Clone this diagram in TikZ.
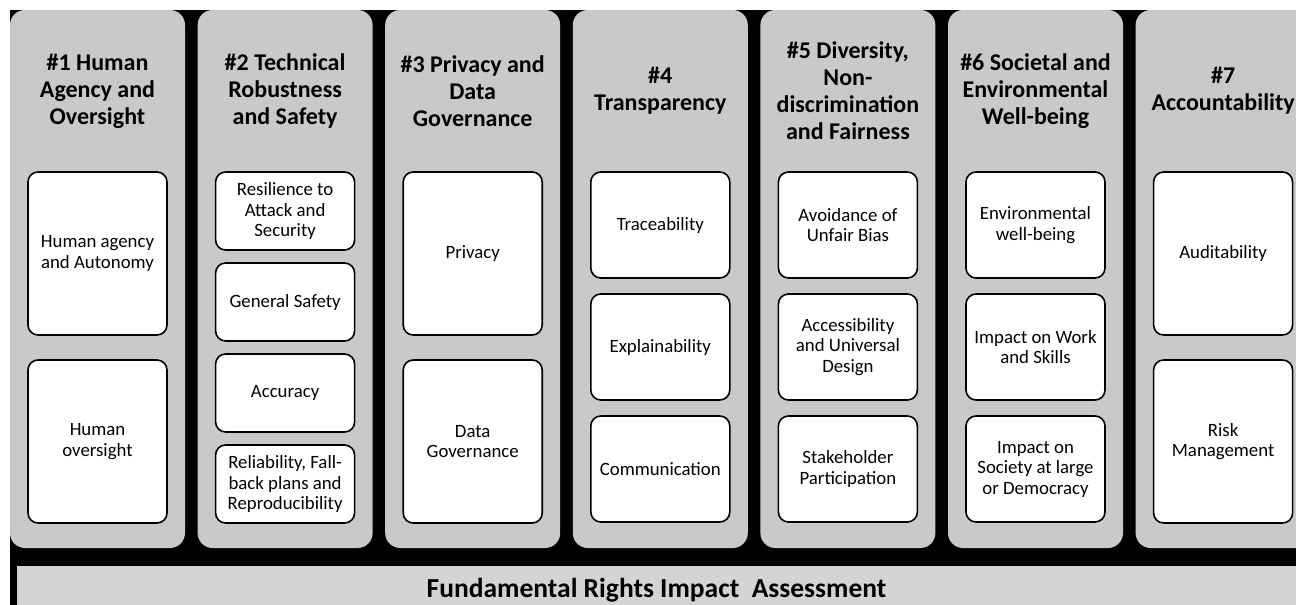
\documentclass[tikz,border=0pt]{standalone}
\usepackage{fontspec}
\setmainfont{Carlito}
\usepackage{tikz}
\usetikzlibrary{positioning}
\definecolor{pillargray}{RGB}{201,201,201}
\definecolor{friagray}{RGB}{212,212,212}
\tikzstyle{pillar} = [rectangle, rounded corners=7.5pt, fill=pillargray, minimum width=87.5pt, minimum height=269pt, inner sep=0pt, outer sep=0pt]
\tikzstyle{reqtitle} = [align=center, font=\bfseries\fontsize{12}{13.5}\selectfont, inner sep=0pt]
\tikzstyle{req} = [rectangle, rounded corners=5pt, fill=white, draw=black, line width=0.8pt, minimum width=69.5pt, align=center, font=\fontsize{9.4}{10.25}\selectfont, inner sep=0pt, outer sep=0pt]
\tikzstyle{reqbig} = [req, minimum height=81.5pt]
\tikzstyle{reqfour} = [req, minimum height=39pt]
\tikzstyle{reqthree} = [req, minimum height=53pt]
\tikzstyle{fria} = [rectangle, fill=friagray, minimum width=639.5pt, minimum height=24pt, font=\bfseries\fontsize{13.75}{15}\selectfont, inner sep=0pt]

\begin{document}
\begin{tikzpicture}[x=0.5pt, y=-0.5pt, node distance=6.3pt]
	\useasboundingbox (0,0) rectangle (1296,605);
	\fill[black] (10,10) rectangle (1296,605);
	
	% the seven requirements
	\node[pillar] (pillar1) at (97.5,279) {};
	\node[pillar, right=of pillar1] (pillar2) {};
	\node[pillar, right=of pillar2] (pillar3) {};
	\node[pillar, right=of pillar3] (pillar4) {};
	\node[pillar, right=of pillar4] (pillar5) {};
	\node[pillar, right=of pillar5] (pillar6) {};
	\node[pillar, right=of pillar6] (pillar7) {};
	
	\node[reqtitle] (title1) at ([yshift=-40.5pt]pillar1.north) {\#1 Human\\Agency and\\Oversight};
	\node[reqtitle] (title2) at ([yshift=-40.5pt]pillar2.north) {\#2 Technical\\Robustness\\and Safety};
	\node[reqtitle] (title3) at ([yshift=-40.5pt]pillar3.north) {\#3 Privacy and\\Data\\Governance};
	\node[reqtitle] (title4) at ([yshift=-40.5pt]pillar4.north) {\#4\\Transparency};
	\node[reqtitle] (title5) at ([yshift=-40.5pt]pillar5.north) {\#5 Diversity,\\Non-\\discrimination\\and Fairness};
	\node[reqtitle] (title6) at ([yshift=-40.5pt]pillar6.north) {\#6 Societal and\\Environmental\\Well-being};
	\node[reqtitle] (title7) at ([yshift=-40.5pt]pillar7.north) {\#7\\Accountability};
	
	\node[reqbig, below=81pt of pillar1.north] (agency) {Human agency\\and Autonomy};
	\node[reqbig, below=12.5pt of agency] (oversight) {Human\\oversight};
	
	\node[reqfour, below=81pt of pillar2.north] (resilience) {Resilience to\\Attack and\\Security};
	\node[reqfour, below=6.5pt of resilience] (safety) {General Safety};
	\node[reqfour, below=6.5pt of safety] (accuracy) {Accuracy};
	\node[reqfour, below=6.5pt of accuracy] (reliability) {Reliability, Fall-\\back plans and\\Reproducibility};
	
	\node[reqbig, below=81pt of pillar3.north] (privacy) {Privacy};
	\node[reqbig, below=12.5pt of privacy] (datagov) {Data\\Governance};
	
	\node[reqthree, below=81pt of pillar4.north] (traceability) {Traceability};
	\node[reqthree, below=8pt of traceability] (explainability) {Explainability};
	\node[reqthree, below=8pt of explainability] (communication) {Communication};
	
	\node[reqthree, below=81pt of pillar5.north] (bias) {Avoidance of\\Unfair Bias};
	\node[reqthree, below=8pt of bias] (access) {Accessibility\\and Universal\\Design};
	\node[reqthree, below=8pt of access] (stakeholder) {Stakeholder\\Participation};
	
	\node[reqthree, below=81pt of pillar6.north] (environment) {Environmental\\well-being};
	\node[reqthree, below=8pt of environment] (work) {Impact on Work\\and Skills};
	\node[reqthree, below=8pt of work] (society) {Impact on\\Society at large\\or Democracy};
	
	\node[reqbig, below=81pt of pillar7.north] (audit) {Auditability};
	\node[reqbig, below=12.5pt of audit] (risk) {Risk\\Management};
	
	% base
	\node[fria] (fria) at (656.5,590) {Fundamental Rights Impact\ \ Assessment};
	
\end{tikzpicture}
\end{document}
